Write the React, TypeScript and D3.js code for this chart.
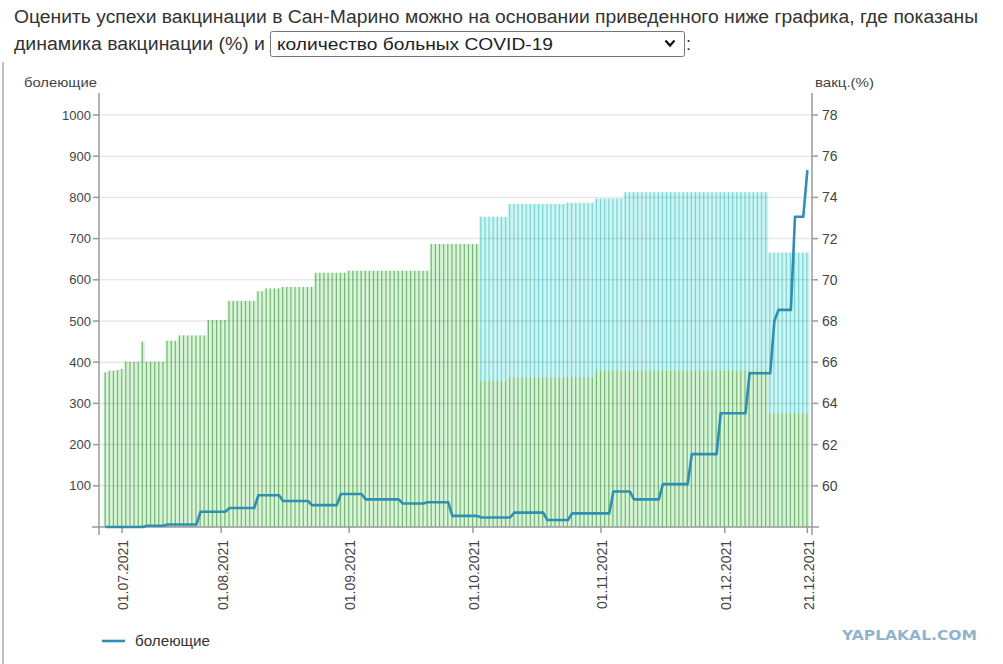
import React, { useEffect, useRef } from 'react';
import * as d3 from 'd3';

const YEAR = '2021';

// one entry per bar (days with data), DD.MM
const dates = [
  '27.06', '28.06', '29.06', '30.06',
  '01.07', '02.07', '03.07', '05.07', '06.07', '07.07', '08.07', '09.07', '10.07', '12.07', '13.07', '14.07',
  '15.07', '16.07', '17.07', '19.07', '20.07', '21.07', '22.07', '23.07', '26.07', '27.07', '28.07', '29.07',
  '01.08', '02.08', '03.08', '04.08', '05.08', '06.08', '07.08', '08.08', '09.08', '10.08', '11.08', '12.08',
  '13.08', '14.08', '15.08', '16.08', '17.08', '18.08', '19.08', '20.08', '21.08', '22.08', '23.08', '24.08',
  '25.08', '26.08', '27.08', '28.08', '29.08', '30.08', '31.08',
  '01.09', '02.09', '03.09', '04.09', '05.09', '06.09', '07.09', '08.09', '09.09', '10.09', '11.09', '12.09',
  '13.09', '14.09', '15.09', '16.09', '17.09', '18.09', '19.09', '20.09', '21.09', '22.09', '23.09', '24.09',
  '25.09', '26.09', '27.09', '28.09', '29.09', '30.09',
  '01.10', '02.10', '03.10', '04.10', '05.10', '06.10', '07.10', '08.10', '09.10', '10.10', '11.10', '12.10',
  '13.10', '14.10', '15.10', '16.10', '17.10', '18.10', '19.10', '20.10', '21.10', '22.10', '23.10', '24.10',
  '25.10', '26.10', '27.10', '28.10', '29.10', '30.10', '31.10',
  '01.11', '02.11', '03.11', '04.11', '05.11', '06.11', '07.11', '08.11', '09.11', '10.11', '11.11', '12.11',
  '13.11', '14.11', '15.11', '16.11', '17.11', '18.11', '19.11', '20.11', '21.11', '22.11', '23.11', '24.11',
  '25.11', '26.11', '27.11', '28.11', '29.11', '30.11',
  '01.12', '02.12', '03.12', '04.12', '05.12', '06.12', '07.12', '08.12', '09.12', '10.12', '11.12', '12.12',
  '13.12', '14.12', '15.12', '16.12', '17.12', '18.12', '19.12', '20.12', '21.12',
];

// vaccination, % (right axis) - green bars
const vaccGreen = [
  65.51, 65.59, 65.59, 65.62, 65.67,
  66.02, 66.02, 66.02, 66.02, 67.0, 66.02, 66.02, 66.02, 66.02, 66.02,
  67.04, 67.04, 67.04,
  67.3, 67.3, 67.3, 67.3, 67.3, 67.3, 67.3,
  68.04, 68.04, 68.04, 68.04, 68.04,
  68.98, 68.98, 68.98, 68.98, 68.98, 68.98, 68.98,
  69.44, 69.44, 69.58, 69.58, 69.58, 69.58,
  69.65, 69.65, 69.65, 69.65, 69.65, 69.65, 69.65, 69.65,
  70.34, 70.34, 70.34, 70.34, 70.34, 70.34, 70.34, 70.34,
  70.44, 70.44, 70.44, 70.44, 70.44, 70.44, 70.44, 70.44, 70.44, 70.44,
  70.44, 70.44, 70.44, 70.44, 70.44, 70.44, 70.44, 70.44, 70.44, 70.44,
  71.74, 71.74, 71.74, 71.74, 71.74, 71.74, 71.74, 71.74, 71.74, 71.74, 71.74, 71.74,
  65.09, 65.09, 65.09, 65.09, 65.09, 65.09, 65.09,
  65.27, 65.27, 65.27, 65.27, 65.27, 65.27, 65.27, 65.27, 65.27, 65.27, 65.27,
  65.27, 65.27, 65.27, 65.27, 65.27, 65.27, 65.27, 65.27, 65.27, 65.27,
  65.6, 65.6, 65.6, 65.6, 65.6, 65.6, 65.6, 65.6, 65.6, 65.6, 65.6, 65.6, 65.6, 65.6,
  65.6, 65.6, 65.6, 65.6, 65.6, 65.6, 65.6, 65.6, 65.6, 65.6, 65.6, 65.6, 65.6, 65.6,
  65.6, 65.6, 65.6, 65.6, 65.6, 65.6, 65.6, 65.6, 65.6, 65.6, 65.6, 65.6, 65.6, 65.6,
  63.52, 63.52, 63.52, 63.52, 63.52, 63.52, 63.52, 63.52, 63.52, 63.52,
];

// vaccination, % (right axis) - cyan bars, only from October
const vaccCyan: (number | null)[] = [
  null, null, null, null, null, null, null, null, null, null, null, null, null, null, null, null,
  null, null, null, null, null, null, null, null, null, null, null, null, null, null, null, null,
  null, null, null, null, null, null, null, null, null, null, null, null, null, null, null, null,
  null, null, null, null, null, null, null, null, null, null, null, null, null, null, null, null,
  null, null, null, null, null, null, null, null, null, null, null, null, null, null, null, null,
  null, null, null, null, null, null, null, null, null, null, null,
  73.06, 73.06, 73.06, 73.06, 73.06, 73.06, 73.06,
  73.68, 73.68, 73.68, 73.68, 73.68, 73.68, 73.68, 73.68, 73.68, 73.68, 73.68, 73.68, 73.68, 73.68,
  73.74, 73.74, 73.74, 73.74, 73.74, 73.74, 73.74,
  73.94, 73.94, 73.94, 73.94, 73.94, 73.94, 73.94,
  74.25, 74.25, 74.25, 74.25, 74.25, 74.25, 74.25, 74.25, 74.25, 74.25, 74.25, 74.25,
  74.25, 74.25, 74.25, 74.25, 74.25, 74.25, 74.25, 74.25, 74.25, 74.25, 74.25, 74.25,
  74.25, 74.25, 74.25, 74.25, 74.25, 74.25, 74.25, 74.25, 74.25, 74.25, 74.25,
  71.32, 71.32, 71.32, 71.32, 71.32, 71.32, 71.32, 71.32, 71.32, 71.32,
];

// болеющие (left axis)
const sick = [
  0, 0, 0, 0, 0, 0, 0, 0, 0, 0,
  3, 3, 3, 3, 3,
  6, 6, 6, 6, 6, 6, 6, 6,
  37, 37, 37, 37, 37, 37, 37,
  46, 46, 46, 46, 46, 46, 46,
  77, 77, 77, 77, 77, 77,
  63, 63, 63, 63, 63, 63, 63,
  53, 53, 53, 53, 53, 53, 53,
  80, 80, 80, 80, 80, 80,
  67, 67, 67, 67, 67, 67, 67, 67, 67,
  57, 57, 57, 57, 57, 57,
  60, 60, 60, 60, 60, 60,
  27, 27, 27, 27, 27, 27, 27,
  23, 23, 23, 23, 23, 23, 23, 23,
  35, 35, 35, 35, 35, 35, 35, 35,
  17, 17, 17, 17, 17, 17,
  33, 33, 33, 33, 33, 33, 33, 33, 33, 33,
  86, 86, 86, 86, 86,
  67, 67, 67, 67, 67, 67, 67,
  104, 104, 104, 104, 104, 104, 104,
  177, 177, 177, 177, 177, 177, 177,
  276, 276, 276, 276, 276, 276, 276,
  373, 373, 373, 373, 373, 373,
  500,
  527, 527, 527, 527,
  753, 753, 753,
  866,
];

const xTicks = ['01.07', '01.08', '01.09', '01.10', '01.11', '01.12', '21.12'];
const leftTicks = [100, 200, 300, 400, 500, 600, 700, 800, 900, 1000];
const rightTicks = [60, 62, 64, 66, 68, 70, 72, 74, 76, 78];

const FONT = '"Liberation Sans", Arial, sans-serif';
const LINE = '#2f8fb1';

interface Row {
  d: string;
  g: number;
  c: number | null;
  s: number;
}

const App: React.FC = () => {
  const ref = useRef<SVGSVGElement>(null);

  useEffect(() => {
    const svg = d3.select(ref.current);
    svg.selectAll('*').remove();
    svg.attr('font-family', FONT);

    const rows: Row[] = dates.map((d, i) => ({ d, g: vaccGreen[i], c: vaccCyan[i], s: sick[i] }));

    const x = d3.scaleBand<string>().domain(dates).range([100, 813]).paddingInner(0).paddingOuter(0.86);
    const bw = x.bandwidth();
    const yL = d3.scaleLinear().domain([0, 1000]).range([527, 115]);
    const yR = d3.scaleLinear().domain([58, 78]).range([527, 115]);
    const base = yR(58);

    // page frame + header
    svg.append('line')
      .attr('x1', 3).attr('x2', 3).attr('y1', 62).attr('y2', 664)
      .attr('stroke', '#a8a8a8').attr('stroke-width', 1.5);

    svg.append('text')
      .attr('x', 14).attr('y', 23)
      .attr('font-size', 18).attr('fill', '#333')
      .attr('textLength', 964).attr('lengthAdjust', 'spacingAndGlyphs')
      .text('Оценить успехи вакцинации в Сан-Марино можно на основании приведенного ниже графика, где показаны');
    svg.append('text')
      .attr('x', 14).attr('y', 50)
      .attr('font-size', 18).attr('fill', '#333')
      .attr('textLength', 251).attr('lengthAdjust', 'spacingAndGlyphs')
      .text('динамика вакцинации (%) и');

    // select box
    svg.append('rect')
      .attr('x', 270.5).attr('y', 31.5).attr('width', 414).attr('height', 25).attr('rx', 2)
      .attr('fill', '#fff').attr('stroke', '#767676');
    svg.append('text')
      .attr('x', 277).attr('y', 50)
      .attr('font-size', 17).attr('fill', '#222')
      .attr('textLength', 276).attr('lengthAdjust', 'spacingAndGlyphs')
      .text('количество больных COVID-19');
    svg.append('path')
      .attr('d', 'M665.5,40.5 L670,45.5 L674.5,40.5')
      .attr('fill', 'none').attr('stroke', '#111').attr('stroke-width', 2.2);
    svg.append('text')
      .attr('x', 686).attr('y', 50).attr('font-size', 18).attr('fill', '#333').text(':');

    // bars
    const cyanRows = rows.filter(r => r.c != null);
    const gBars = svg.append('g');
    gBars.selectAll('rect.cf').data(cyanRows).join('rect')
      .attr('x', r => x(r.d)!).attr('width', bw)
      .attr('y', r => yR(r.c as number)).attr('height', r => base - yR(r.c as number))
      .attr('fill', '#c6f5f4');
    gBars.selectAll('rect.cs').data(cyanRows).join('rect')
      .attr('x', r => x(r.d)! + 1).attr('width', 1.2)
      .attr('y', r => yR(r.c as number)).attr('height', r => base - yR(r.c as number))
      .attr('fill', '#84d2d1');
    gBars.selectAll('rect.gf').data(rows).join('rect')
      .attr('x', r => x(r.d)!).attr('width', bw)
      .attr('y', r => yR(r.g)).attr('height', r => base - yR(r.g))
      .attr('fill', '#d6f4d5');
    gBars.selectAll('rect.gs').data(rows).join('rect')
      .attr('x', r => x(r.d)! + 1).attr('width', 1.2)
      .attr('y', r => yR(r.g)).attr('height', r => base - yR(r.g))
      .attr('fill', '#78b677');

    // grid
    svg.append('g').selectAll('line').data(leftTicks).join('line')
      .attr('x1', 99).attr('x2', 812)
      .attr('y1', t => yL(t)).attr('y2', t => yL(t))
      .attr('stroke', 'rgba(0,0,0,0.09)').attr('stroke-width', 1.5);

    // axes
    const axisColor = '#9a9a9a';
    const axes = svg.append('g').attr('stroke', axisColor).attr('stroke-width', 1.5);
    axes.append('line').attr('x1', 99).attr('x2', 99).attr('y1', 93).attr('y2', 535);
    axes.append('line').attr('x1', 812).attr('x2', 812).attr('y1', 93).attr('y2', 535);
    axes.append('line').attr('x1', 92).attr('x2', 819).attr('y1', 527).attr('y2', 527);
    axes.selectAll('line.lt').data(leftTicks).join('line')
      .attr('x1', 93).attr('x2', 99).attr('y1', t => yL(t)).attr('y2', t => yL(t));
    axes.selectAll('line.rt').data(rightTicks).join('line')
      .attr('x1', 812).attr('x2', 818).attr('y1', t => yR(t)).attr('y2', t => yR(t));
    axes.selectAll('line.xt').data(xTicks).join('line')
      .attr('x1', t => x(t)! + bw / 2).attr('x2', t => x(t)! + bw / 2)
      .attr('y1', 527).attr('y2', 533);

    const labels = svg.append('g').attr('fill', '#444');
    labels.selectAll('text.ll').data(leftTicks).join('text')
      .attr('x', 91).attr('y', t => yL(t)).attr('dy', '0.35em')
      .attr('text-anchor', 'end').attr('font-size', 13)
      .text(t => String(t));
    labels.selectAll('text.rl').data(rightTicks).join('text')
      .attr('x', 822).attr('y', t => yR(t)).attr('dy', '0.35em')
      .attr('font-size', 14)
      .text(t => String(t));
    labels.selectAll('text.xl').data(xTicks).join('text')
      .attr('transform', t => `translate(${x(t)! + bw / 2},540) rotate(-90)`)
      .attr('dy', '0.45em').attr('text-anchor', 'end').attr('font-size', 14)
      .text(t => `${t}.${YEAR}`);

    labels.append('text').attr('x', 97).attr('y', 87).attr('text-anchor', 'end')
      .attr('font-size', 13).attr('textLength', 73).attr('lengthAdjust', 'spacingAndGlyphs')
      .text('болеющие');
    labels.append('text').attr('x', 815).attr('y', 87)
      .attr('font-size', 13).attr('textLength', 59).attr('lengthAdjust', 'spacingAndGlyphs')
      .text('вакц.(%)');

    // sick line
    const line = d3.line<Row>()
      .x(r => x(r.d)! + bw / 2)
      .y(r => yL(r.s));
    svg.append('path')
      .datum(rows)
      .attr('fill', 'none')
      .attr('stroke', LINE)
      .attr('stroke-width', 2.6)
      .attr('stroke-linejoin', 'round')
      .attr('d', line);

    // legend
    svg.append('line')
      .attr('x1', 102).attr('x2', 125).attr('y1', 641).attr('y2', 641)
      .attr('stroke', LINE).attr('stroke-width', 2.6);
    svg.append('text')
      .attr('x', 135).attr('y', 646).attr('font-size', 15).attr('fill', '#333')
      .attr('textLength', 75).attr('lengthAdjust', 'spacingAndGlyphs')
      .text('болеющие');

    // watermark
    svg.append('text')
      .attr('x', 842).attr('y', 640)
      .attr('font-family', '"DejaVu Sans", sans-serif').attr('font-weight', 700)
      .attr('font-size', 14).attr('fill', '#8fb4cc')
      .attr('textLength', 135).attr('lengthAdjust', 'spacingAndGlyphs')
      .text('YAPLAKAL.COM');
  }, []);

  return (
    <svg
      ref={ref}
      width={1003}
      height={664}
      style={{ position: 'absolute', left: 0, top: 0, background: '#fff' }}
    />
  );
};

export default App;
